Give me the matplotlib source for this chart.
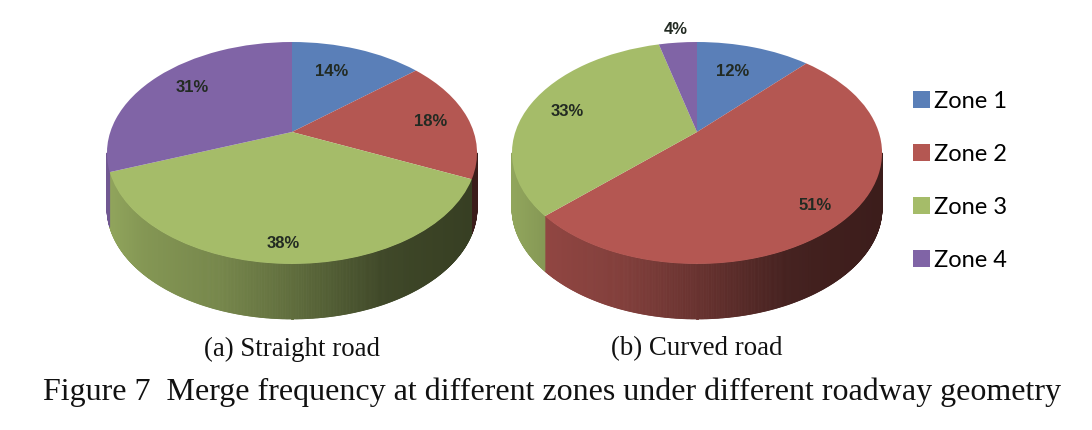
import numpy as np
import matplotlib
matplotlib.use("Agg")
import matplotlib.pyplot as plt
from matplotlib.collections import PolyCollection
from matplotlib.transforms import Transform
from matplotlib.colors import to_rgb

zones = ["Zone 1", "Zone 2", "Zone 3", "Zone 4"]
straight_values = [14, 18, 38, 31]
curved_values = [12, 51, 33, 4]
colors = ["#5A7FB8", "#B45752", "#A5BC69", "#8064A6"]
captions = ["(a) Straight road", "(b) Curved road"]
figure_title = "Figure 7  Merge frequency at different zones under different roadway geometry"


class Tilt(Transform):
    """Perspective view of the unit disk, placed in pixel-like data coordinates."""
    input_dims = output_dims = 2
    has_inverse = False

    def __init__(self, cx, cy, a=0.189, sx=181.7, sy=107.0):
        super().__init__()
        self.cx, self.cy, self.a, self.sx, self.sy = cx, cy, a, sx, sy

    def transform_non_affine(self, xy):
        xy = np.asarray(xy, float)
        w = 1 + self.a * xy[:, 1]
        return np.column_stack([self.cx + self.sx * xy[:, 0] / w,
                                self.cy - self.sy * xy[:, 1] / w])


def shade(f):
    return np.interp(f, [0, 0.1, 0.3, 0.5, 0.75, 1], [0.88, 0.8, 0.72, 0.58, 0.38, 0.33])


def draw_pie(ax, values, cx, cy, depth=55):
    tilt = Tilt(cx, cy)
    # side wall
    edges = np.cumsum(values) / np.sum(values) * 360
    tang = np.degrees(np.arccos(-tilt.a))
    th = np.linspace(tang, 360 - tang, 500)
    pts = tilt.transform_non_affine(np.column_stack([np.sin(np.radians(th)), np.cos(np.radians(th))]))
    x0, x1 = pts[:, 0].min(), pts[:, 0].max()
    polys, cols = [], []
    for i in range(len(th) - 1):
        p, q = pts[i], pts[i + 1]
        polys.append([p, q, q + [0, depth], p + [0, depth]])
        mid = (th[i] + th[i + 1]) / 2
        idx = min(np.searchsorted(edges, mid), len(values) - 1)
        f = ((p[0] + q[0]) / 2 - x0) / (x1 - x0)
        cols.append(tuple(np.array(to_rgb(colors[idx])) * shade(f)))
    ax.add_collection(PolyCollection(polys, facecolors=cols, edgecolors=cols, linewidths=0.6, zorder=1))
    # top face
    wedges, _ = ax.pie(values, colors=colors, startangle=90, counterclock=False, radius=1)
    for w in wedges:
        w.set_transform(tilt + ax.transData)
        w.set_zorder(2)
    return wedges


fig = plt.figure(figsize=(10.92, 4.3), dpi=100)
ax = fig.add_axes([0, 0, 1, 1])
w1 = draw_pie(ax, straight_values, 292, 132)
draw_pie(ax, curved_values, 697, 132)
ax.set_aspect("auto")
ax.set_xlim(0, 1092)
ax.set_ylim(430, 0)
ax.axis("off")

label_pos_a = [(332, 71), (431, 122), (283, 243), (192, 88)]
label_pos_b = [(733, 71), (815, 206), (567, 111), (676, 29)]
for vals, pos in ((straight_values, label_pos_a), (curved_values, label_pos_b)):
    for v, (x, y) in zip(vals, pos):
        ax.text(x, y, f"{v}%", ha="center", va="center", fontsize=12, fontweight="bold",
                family="Liberation Sans", color="#222a22", zorder=3)

ax.legend(w1, zones, loc="upper left", bbox_to_anchor=(905.5 / 1092, 1 - 84 / 430), frameon=False,
          prop={"family": "Lato", "size": 17}, handlelength=0.72, handleheight=0.72,
          handletextpad=0.2, labelspacing=1.355, borderpad=0.3, borderaxespad=0)

ax.text(291.5, 349, captions[0], ha="center", va="center", family="Liberation Serif", fontsize=19.4, color="#111111")
ax.text(696.5, 349, captions[1], ha="center", va="center", family="Liberation Serif", fontsize=19.4, color="#111111")
ax.text(552, 392, figure_title, ha="center", va="center", family="Liberation Serif", fontsize=23, color="#111111")

fig.savefig("out.png", dpi=100)
